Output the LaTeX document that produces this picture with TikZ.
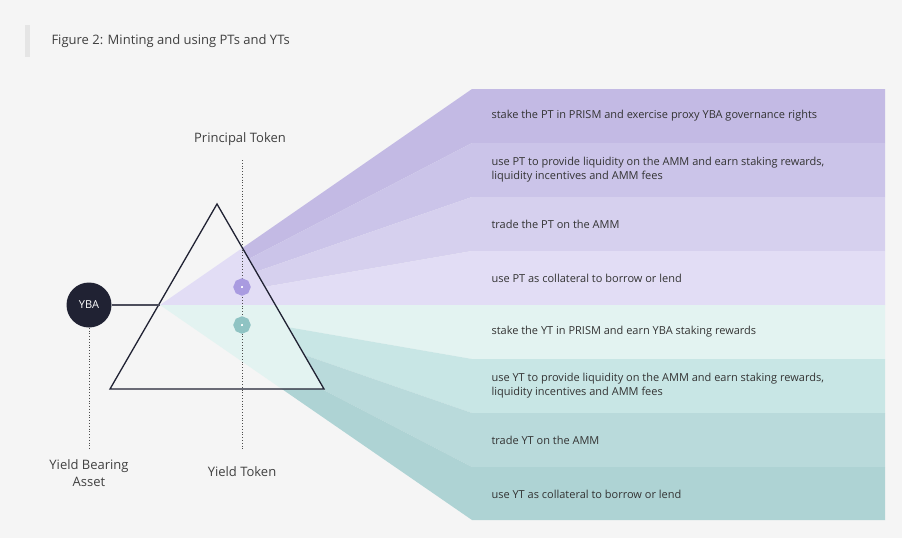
\documentclass[tikz,border=0pt]{standalone}
\usepackage{fontspec}
\setmainfont{Open Sans}
\begin{document}
\begin{tikzpicture}[x=1pt,y=-1pt,
  lbl/.style={font=\fontsize{11}{14}\selectfont,text=black!80,anchor=west,align=left},
  big/.style={font=\fontsize{13}{16}\selectfont,text=black!75,align=center},
  dots/.style={dotted,draw=black!70,line width=0.8pt}]
\definecolor{bg}{HTML}{F5F5F5}
\definecolor{pa}{HTML}{C3BAE4}\definecolor{pb}{HTML}{CBC4E9}
\definecolor{pc}{HTML}{D6D0EE}\definecolor{pd}{HTML}{E2DDF5}
\definecolor{ta}{HTML}{E3F3F1}\definecolor{tb}{HTML}{C8E6E5}
\definecolor{tc}{HTML}{B9DADB}\definecolor{td}{HTML}{AED3D4}
\definecolor{dk}{HTML}{202233}
\fill[bg] (0,0) rectangle (902,538);
\useasboundingbox (0,0) rectangle (902,538);
\fill[black!10] (25,25) rectangle (30,57);
\node[big,anchor=west] (title) at (48,41) {Figure 2: Minting and using PTs and YTs};
\coordinate (apex) at (160,305);
\foreach \c/\t/\b in {pa/89/143,pb/143/197,pc/197/251,pd/251/305,ta/305/359,tb/359/413,tc/413/467,td/467/520}{
  \fill[\c] (apex) -- (472,\t) -- (885,\t) -- (885,\b) -- (472,\b) -- cycle;
}
\begin{scope}
\clip (217,204) -- (110,389) -- (324,389) -- cycle;
\fill[bg] (100,190) rectangle (340,400);
\fill[pd] (apex) -- (472,89) -- (472,305) -- cycle;
\fill[ta] (apex) -- (472,305) -- (472,520) -- cycle;
\end{scope}
\node[lbl] (b1) at (488,116) {stake the PT in PRISM and exercise proxy YBA governance rights};
\node[lbl] (b2) at (488,170) {use PT to provide liquidity on the AMM and earn staking rewards,\\liquidity incentives and AMM fees};
\node[lbl] (b3) at (488,224) {trade the PT on the AMM};
\node[lbl] (b4) at (488,278) {use PT as collateral to borrow or lend};
\node[lbl] (b5) at (488,332) {stake the YT in PRISM and earn YBA staking rewards};
\node[lbl] (b6) at (488,386) {use YT to provide liquidity on the AMM and earn staking rewards,\\liquidity incentives and AMM fees};
\node[lbl] (b7) at (488,440) {trade YT on the AMM};
\node[lbl] (b8) at (488,494) {use YT as collateral to borrow or lend};
\node[big] (pt) at (240,139) {Principal Token};
\node[big] (yt) at (242,472) {Yield Token};
\node[big,font=\fontsize{13}{17}\selectfont] (yba) at (89,473) {Yield Bearing\\Asset};
\coordinate (vt) at (242,160); \coordinate (vb) at (242,450);
\draw[dots] (vt) -- (vb);
\draw[line width=1.3pt,draw=dk,line join=miter] (217,204) -- (110,389) -- (324,389) -- cycle;
\node[circle,fill=dk,minimum size=45pt,inner sep=0,text=white,font=\fontsize{11}{13}\selectfont] (c) at (89,305) {YBA};
\draw[line width=1.3pt,draw=dk!80] (c.east) -- (apex);
\coordinate (ybab) at (89,450);
\draw[dots] (c.south) -- (ybab);
\node[circle,fill=white,draw={rgb,255:red,169;green,155;blue,224},line width=7pt,minimum size=10pt,inner sep=0] (dp) at (242,287) {};
\node[circle,fill=white,draw={rgb,255:red,143;green,195;blue,195},line width=7pt,minimum size=10pt,inner sep=0] (dt) at (242,325) {};
\end{tikzpicture}
\end{document}
